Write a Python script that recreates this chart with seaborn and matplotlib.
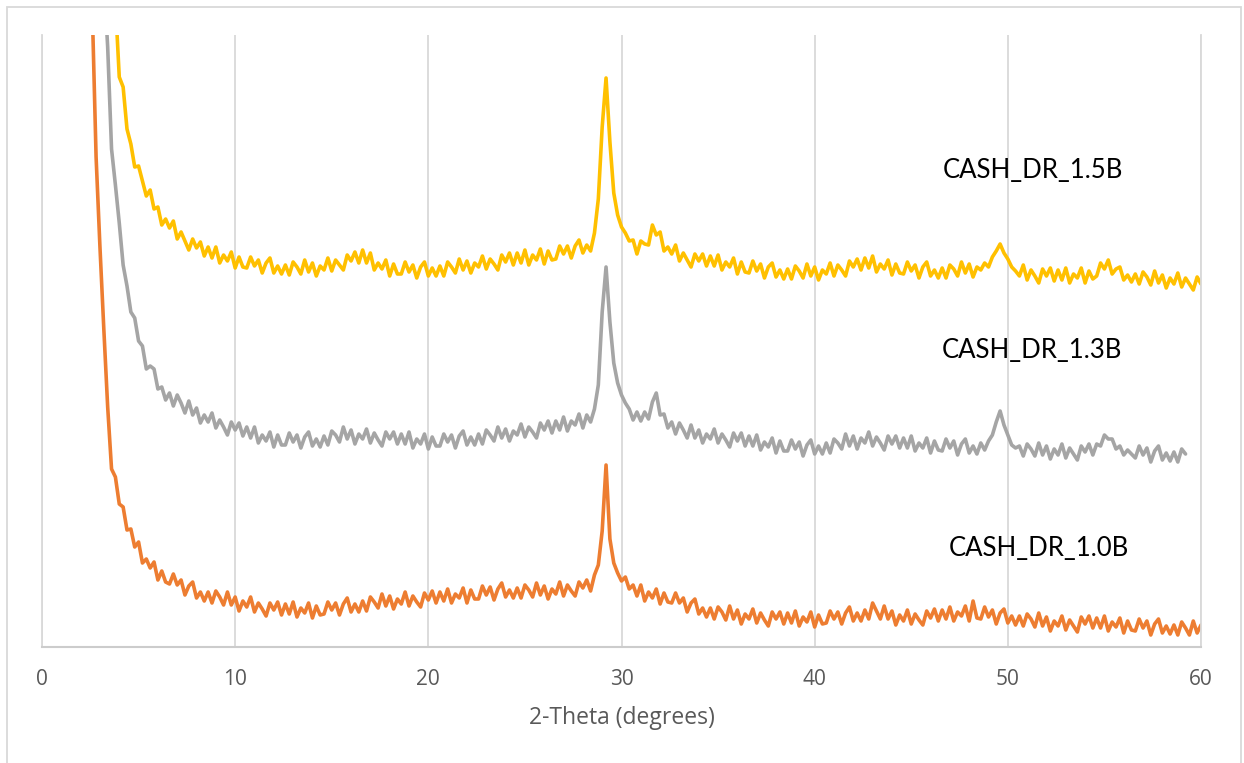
import numpy as np
import pandas as pd
import matplotlib
matplotlib.use("Agg")
import matplotlib.pyplot as plt
import seaborn as sns
from matplotlib.patches import Rectangle

# 2-theta scan grid (step 0.2 deg)
two_theta = np.round(np.arange(2.6, 60.001, 0.2), 1)

# intensities (arbitrary units, offset stacked)
cash_10b = [
    640, 490, 400, 318, 240, 178, 170, 143, 140, 117,
    118, 100, 105, 84, 88, 79, 85, 67, 76, 65,
    63, 73, 62, 67, 52, 61, 65, 49, 55, 46,
    55, 44, 56, 50, 42, 55, 42, 50, 36, 46,
    40, 50, 35, 44, 38, 31, 44, 37, 45, 32,
    43, 33, 45, 30, 39, 34, 44, 29, 41, 32,
    33, 45, 37, 44, 32, 43, 49, 35, 43, 35,
    46, 36, 50, 45, 39, 53, 41, 51, 38, 48,
    43, 55, 41, 51, 45, 40, 54, 47, 56, 44,
    55, 46, 58, 44, 53, 49, 59, 44, 57, 48,
    48, 61, 52, 60, 47, 58, 64, 50, 57, 49,
    59, 49, 62, 57, 50, 64, 52, 61, 48, 58,
    53, 65, 51, 62, 56, 51, 65, 59, 67, 56,
    72, 82, 116, 182, 108, 84, 74, 66, 70, 58,
    62, 51, 62, 46, 55, 49, 58, 43, 54, 45,
    44, 54, 44, 49, 35, 44, 48, 33, 39, 30,
    39, 28, 40, 35, 27, 41, 28, 37, 23, 33,
    28, 38, 24, 34, 27, 21, 35, 28, 35, 23,
    34, 24, 36, 21, 30, 25, 35, 20, 32, 23,
    24, 36, 28, 35, 23, 34, 40, 26, 34, 26,
    37, 28, 44, 36, 28, 41, 28, 36, 22, 32,
    26, 37, 23, 33, 27, 22, 36, 29, 38, 26,
    37, 28, 40, 26, 35, 31, 41, 26, 46, 29,
    28, 40, 30, 37, 23, 34, 38, 24, 31, 22,
    31, 21, 33, 28, 20, 34, 21, 30, 16, 26,
    21, 31, 17, 27, 21, 15, 30, 23, 31, 19,
    29, 19, 31, 16, 25, 20, 29, 14, 26, 17,
    16, 28, 19, 26, 12, 23, 28, 14, 21, 13,
    22, 12, 25, 19, 12, 26, 14, 22,
]

cash_13b = [
    900, 820, 740, 670, 600, 498, 462, 424, 382, 361,
    335, 329, 306, 301, 278, 281, 278, 258, 260, 247,
    254, 241, 252, 244, 234, 246, 232, 239, 224, 232,
    225, 234, 219, 227, 220, 212, 225, 217, 224, 211,
    220, 209, 220, 204, 212, 206, 215, 200, 212, 202,
    202, 214, 205, 212, 199, 210, 215, 201, 208, 200,
    211, 202, 216, 212, 205, 220, 208, 217, 203, 213,
    208, 218, 204, 214, 207, 201, 215, 208, 215, 203,
    213, 203, 215, 199, 208, 203, 213, 198, 210, 201,
    201, 213, 205, 212, 199, 211, 216, 202, 210, 202,
    213, 203, 217, 212, 206, 220, 209, 218, 206, 216,
    212, 223, 210, 220, 215, 209, 224, 217, 226, 214,
    226, 217, 230, 216, 226, 222, 233, 219, 232, 225,
    238, 262, 335, 380, 325, 284, 264, 252, 244, 238,
    227, 235, 226, 235, 228, 245, 254, 232, 233, 219,
    225, 213, 224, 217, 209, 222, 209, 217, 204, 213,
    208, 218, 204, 213, 207, 200, 214, 206, 214, 201,
    211, 201, 212, 197, 205, 200, 209, 194, 206, 196,
    196, 207, 198, 205, 191, 202, 207, 193, 201, 193,
    204, 194, 208, 204, 198, 213, 201, 211, 198, 209,
    204, 215, 201, 210, 204, 197, 211, 203, 211, 199,
    209, 199, 211, 196, 204, 199, 209, 194, 206, 197,
    196, 208, 199, 206, 192, 203, 208, 194, 201, 193,
    204, 197, 206, 212, 225, 236, 222, 212, 202, 199,
    201, 191, 203, 198, 191, 204, 192, 201, 188, 198,
    192, 203, 189, 199, 193, 187, 201, 195, 203, 192,
    203, 201, 212, 208, 208, 198, 201, 192, 197, 193,
    189, 201, 192, 199, 185, 196, 201, 187, 194, 186,
    195, 185, 198, 193,
]

cash_15b = [
    1100, 1030, 960, 890, 820, 740, 645, 570, 560, 518,
    503, 480, 481, 466, 451, 457, 438, 440, 422, 428,
    419, 426, 408, 415, 406, 397, 408, 399, 405, 391,
    400, 389, 400, 384, 392, 386, 395, 379, 390, 380,
    379, 390, 381, 387, 374, 384, 389, 374, 381, 373,
    382, 372, 385, 380, 373, 387, 375, 384, 371, 381,
    377, 389, 376, 387, 382, 377, 392, 386, 395, 384,
    397, 384, 394, 377, 384, 378, 387, 371, 383, 373,
    373, 385, 375, 382, 369, 380, 385, 371, 379, 371,
    381, 371, 385, 380, 374, 388, 377, 386, 374, 384,
    380, 391, 378, 388, 383, 377, 392, 385, 394, 382,
    394, 384, 397, 382, 392, 387, 398, 383, 396, 387,
    388, 401, 393, 401, 389, 401, 407, 394, 402, 396,
    414, 448, 520, 569, 505, 454, 432, 420, 414, 406,
    407, 393, 406, 403, 402, 422, 412, 415, 396, 400,
    393, 402, 386, 394, 387, 380, 393, 386, 393, 381,
    391, 381, 392, 377, 385, 380, 389, 373, 385, 375,
    374, 386, 376, 383, 369, 380, 384, 370, 377, 368,
    378, 368, 381, 376, 369, 383, 371, 380, 367, 377,
    373, 384, 371, 382, 377, 371, 386, 380, 388, 377,
    389, 379, 391, 375, 383, 378, 387, 372, 383, 374,
    373, 385, 376, 382, 369, 380, 385, 371, 377, 369,
    379, 369, 382, 378, 371, 385, 374, 383, 370, 380,
    377, 384, 380, 390, 396, 403, 394, 388, 380, 376,
    371, 382, 367, 377, 371, 364, 378, 371, 379, 366,
    377, 367, 379, 364, 373, 369, 379, 364, 376, 368,
    371, 384, 378, 387, 373, 378, 380, 367, 372, 365,
    373, 363, 375, 370, 362, 376, 364, 372, 359, 369,
    363, 374, 360, 369, 363, 357, 370, 363,
]

samples = ["CASH_DR_1.0B", "CASH_DR_1.3B", "CASH_DR_1.5B"]
colors = ["#ED7D31", "#A5A5A5", "#FFC000"]

# long-form table for seaborn
frames = []
for name, vals in zip(samples, [cash_10b, cash_13b, cash_15b]):
    frames.append(pd.DataFrame({"two_theta": two_theta[:len(vals)],
                                "intensity": vals, "sample": name}))
df = pd.concat(frames, ignore_index=True)

sns.set_style("white")
plt.rcParams["font.family"] = ["Open Sans", "DejaVu Sans"]

fig = plt.figure(figsize=(12.44, 7.63), dpi=100)
ax = fig.add_axes([42 / 1244, 1 - 647 / 763, (1201 - 42) / 1244, (647 - 35) / 763])

sns.lineplot(data=df, x="two_theta", y="intensity", hue="sample",
             palette=dict(zip(samples, colors)), estimator=None, sort=False,
             linewidth=2.6, legend=False, ax=ax)

ax.set_xlim(0, 60)
ax.set_ylim(0, 612)
ax.set_yticks([])
ax.set_ylabel("")
ax.set_xticks(range(0, 61, 10))
ax.set_xticks(range(0, 61, 2), minor=True)
ax.grid(axis="x", which="major", color="#d9d9d9", linewidth=1.3)
ax.tick_params(axis="x", which="major", length=0, pad=16,
               labelsize=15, labelcolor="#595959")
ax.tick_params(axis="x", which="minor", direction="in", length=4,
               width=1.2, color="#c8c8c8")
ax.set_xlabel("2-Theta (degrees)", fontsize=16.5, color="#595959", labelpad=11)

for side in ["left", "right"]:
    ax.spines[side].set_color("#d9d9d9")
    ax.spines[side].set_linewidth(1.3)
ax.spines["top"].set_visible(False)
ax.spines["bottom"].set_color("#cccccc")
ax.spines["bottom"].set_linewidth(1.5)

# series labels
label_pos = [(51.6, 99), (51.25, 297), (51.3, 477)]
for name, (lx, ly) in zip(samples, label_pos):
    ax.text(lx, ly, name, ha="center", va="center", fontsize=18.5,
            color="black", family=["Lato", "DejaVu Sans"])

# chart border
fig.patches.append(Rectangle((7 / 1244, -0.01), (1241 - 7) / 1244, 1 - 7 / 763 + 0.01,
                             transform=fig.transFigure, fill=False,
                             edgecolor="#d9d9d9", linewidth=1.3))

fig.savefig("out.png", dpi=100)
